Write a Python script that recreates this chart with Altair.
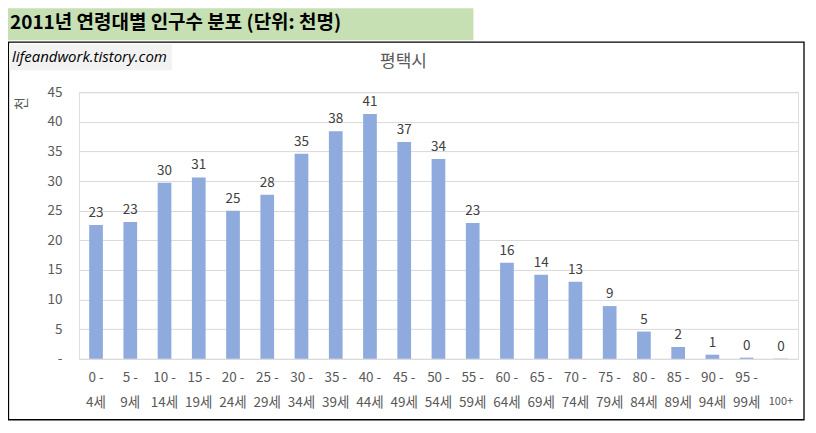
import altair as alt
import pandas as pd

categories = ["0 -|4세", "5 -|9세", "10 -|14세", "15 -|19세", "20 -|24세", "25 -|29세",
              "30 -|34세", "35 -|39세", "40 -|44세", "45 -|49세", "50 -|54세", "55 -|59세",
              "60 -|64세", "65 -|69세", "70 -|74세", "75 -|79세", "80 -|84세", "85 -|89세",
              "90 -|94세", "95 -|99세", "|100+"]
values = [22.6, 23.1, 29.7, 30.6, 25.0, 27.7, 34.6, 38.4, 41.3, 36.6, 33.7, 22.9,
          16.2, 14.2, 13.0, 8.9, 4.6, 2.0, 0.7, 0.2, 0.05]
y_ticks = [0, 5, 10, 15, 20, 25, 30, 35, 40, 45]

header_text = "2011년 연령대별 인구수 분포 (단위: 천명)"
watermark_text = "lifeandwork.tistory.com"
chart_title = "평택시"
y_title = "천"

df = pd.DataFrame({"cat": categories, "v": values})
FONT = "Noto Sans CJK KR"
GREY = "#595959"

x_enc = alt.X("cat:N", sort=None, title=None,
              scale=alt.Scale(paddingInner=0.6, paddingOuter=0.3),
              axis=alt.Axis(labelExpr="split(datum.label, '|')", labelAngle=0,
                            labelBaseline="top", labelPadding=12, labelLineHeight=25,
                            labelFont=FONT, labelColor=GREY,
                            labelFontSize={"condition": {"test": "datum.label == '|100+'", "value": 11}, "value": 13.5},
                            domain=False, ticks=False, grid=False))
y_enc = alt.Y("v:Q", scale=alt.Scale(domain=[0, 45], nice=False),
              axis=alt.Axis(values=y_ticks, tickCount=10, labelOverlap=False,
                            labelExpr="datum.value == 0 ? '-' : datum.label",
                            labelFont=FONT, labelFontSize=13.5, labelColor=GREY, labelPadding=17,
                            domain=False, ticks=False, gridColor="#d9d9d9", gridWidth=1,
                            title=y_title, titleFont=FONT, titleFontSize=14, titleFontWeight="normal",
                            titleColor=GREY, titleAngle=270, titleX=-57, titleY=11,
                            titleAlign="center", titleBaseline="middle"))

bars = alt.Chart(df).mark_bar(color="#8faadc").encode(x=x_enc, y=y_enc)
labels = alt.Chart(df).mark_text(baseline="bottom", dy=-5, font=FONT, fontSize=13.5,
                                 color="#404040").encode(
    x=alt.X("cat:N", sort=None), y="v:Q", text=alt.Text("v:Q", format=".0f"))

one = alt.Data(values=[{}])
header_rect = alt.Chart(one).mark_rect(color="#c6e0b4").encode(
    x=alt.value(-71), x2=alt.value(395), y=alt.value(-84), y2=alt.value(-52))
header_txt = alt.Chart(one).mark_text(align="left", baseline="alphabetic", font=FONT,
                                      fontSize=19, fontWeight="bold", color="black").encode(
    x=alt.value(-69), y=alt.value(-63), text=alt.value(header_text))
border = alt.Chart(one).mark_rect(fill=None, stroke="black", strokeWidth=1.3).encode(
    x=alt.value(-70.5), x2=alt.value(726), y=alt.value(-50), y2=alt.value(328))
wm_rect = alt.Chart(one).mark_rect(color="#f2f2f2").encode(
    x=alt.value(-70), x2=alt.value(93), y=alt.value(-48), y2=alt.value(-22))
wm_txt = alt.Chart(one).mark_text(align="left", baseline="middle", font="Open Sans",
                                  fontStyle="italic", fontSize=15, color="black").encode(
    x=alt.value(-67), y=alt.value(-35), text=alt.value(watermark_text))
title_txt = alt.Chart(one).mark_text(align="center", baseline="middle", font=FONT,
                                     fontSize=17, color=GREY).encode(
    x=alt.value(325), y=alt.value(-30), text=alt.value(chart_title))

chart = alt.layer(header_rect, header_txt, border, wm_rect, wm_txt, title_txt, bars, labels).properties(
    width=720, height=267,
    autosize=alt.AutoSizeParams(type="none"),
    padding={"left": 71, "top": 84, "right": 10, "bottom": 64},
).configure_view(stroke=None).configure(background="white")

chart.save("out.html", embed_options={"renderer": "svg", "actions": False})
